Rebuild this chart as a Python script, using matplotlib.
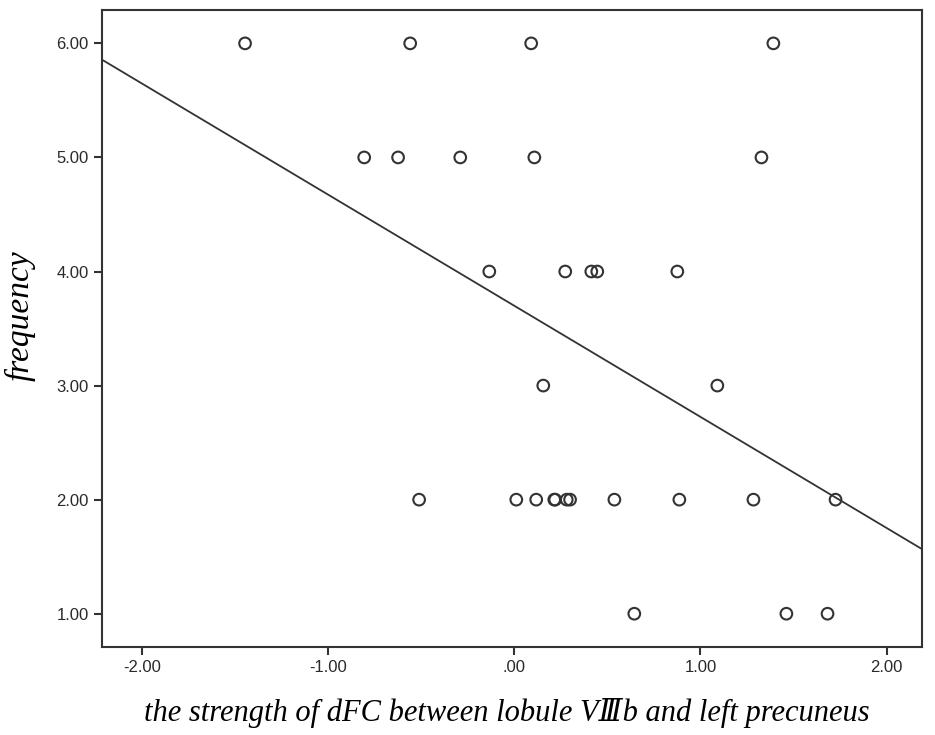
import numpy as np
import matplotlib
matplotlib.use('Agg')
import matplotlib.pyplot as plt

# 데이터
x6 = [-1.446, -0.559, 0.091, 1.392]
x5 = [-0.806, -0.624, -0.290, 0.108, 1.328]
x4 = [-0.134, 0.274, 0.414, 0.446, 0.876]
x3 = [0.156, 1.091]
x2 = [-0.511, 0.011, 0.118, 0.215, 0.220, 0.282, 0.300, 0.538, 0.887, 1.285, 1.726]
x1 = [0.645, 1.462, 1.683]

xs = x6 + x5 + x4 + x3 + x2 + x1
ys = [6] * len(x6) + [5] * len(x5) + [4] * len(x4) + [3] * len(x3) + [2] * len(x2) + [1] * len(x1)

# 회귀선
intercept = 3.70
slope = -0.974

xticks = [-2, -1, 0, 1, 2]
xticklabels = ['-2.00', '-1.00', '.00', '1.00', '2.00']
yticks = [1, 2, 3, 4, 5, 6]
yticklabels = ['1.00', '2.00', '3.00', '4.00', '5.00', '6.00']

fig = plt.figure(figsize=(9.35, 7.35), dpi=100)
ax = fig.add_axes([0.109, 0.120, 0.877, 0.866])

xlim = (-2.215, 2.19)
ax.set_xlim(xlim)
ax.set_ylim(0.71, 6.29)

ax.scatter(xs, ys, s=70, facecolors='none', edgecolors='#333333', linewidths=1.5, zorder=3)

lx = np.array(xlim)
ax.plot(lx, intercept + slope * lx, color='#333333', lw=1.3)

ax.set_xticks(xticks)
ax.set_xticklabels(xticklabels)
ax.set_yticks(yticks)
ax.set_yticklabels(yticklabels)
ax.tick_params(direction='out', length=6, width=1.5, color='#333333', labelsize=12,
               labelcolor='#2a2a2a')
for lab in ax.get_xticklabels() + ax.get_yticklabels():
    lab.set_family('Liberation Sans')
for sp in ax.spines.values():
    sp.set_linewidth(1.5)
    sp.set_color('#333333')

fig.text(0.542, 0.030, 'the strength of dFC between lobule V\u2162b and left precuneus',
         ha='center', va='center', fontsize=22, style='italic',
         family=['Liberation Serif', 'DejaVu Serif'])
fig.text(0.022, 0.571, 'frequency', ha='center', va='center', rotation=90,
         fontsize=24, style='italic', family=['Liberation Serif', 'DejaVu Serif'])

fig.savefig('out.png', dpi=100)
